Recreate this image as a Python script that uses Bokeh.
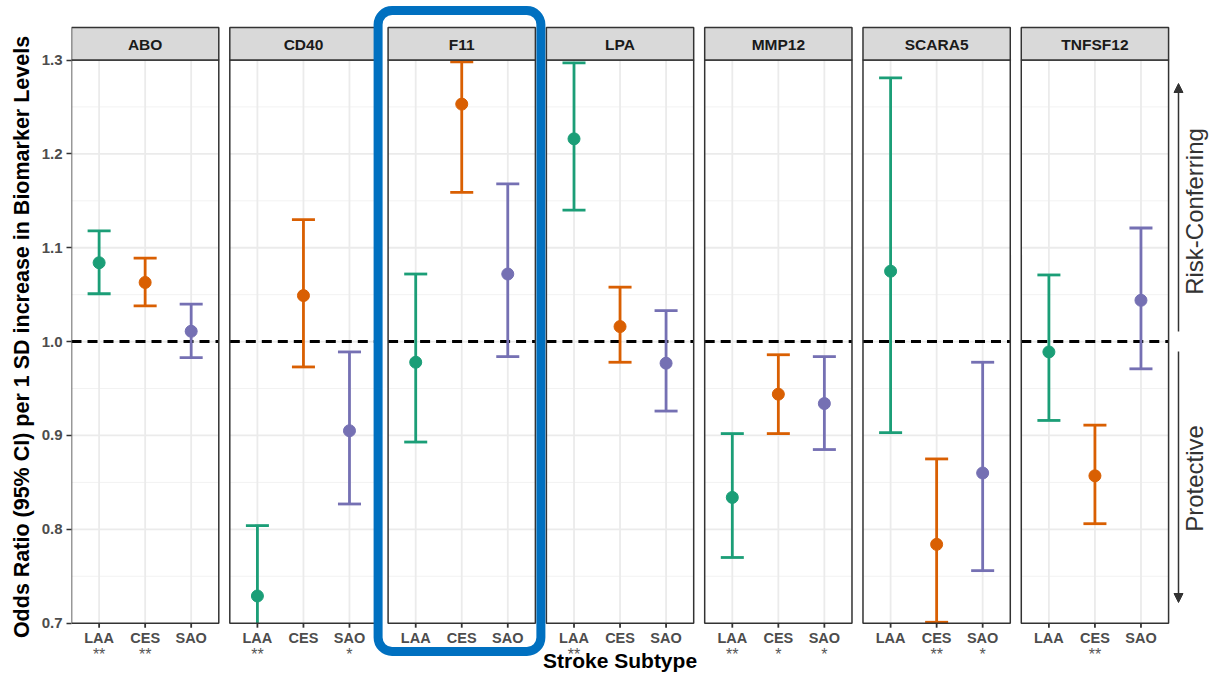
import numpy as np
from bokeh.plotting import figure
from bokeh.models import (ColumnDataSource, FixedTicker, Range1d, BoxAnnotation, Arrow,
                          NormalHead, Label, PrintfTickFormatter)
from bokeh.core.properties import value
from bokeh.embed import file_html
from bokeh.resources import INLINE

# ---------------- data ----------------
genes = ["ABO", "CD40", "F11", "LPA", "MMP12", "SCARA5", "TNFSF12"]
subtypes = ["LAA", "CES", "SAO"]
sub_colors = ["#1b9e77", "#d95f02", "#7570b3"]

laa_or = [1.084, 0.729, 0.978, 1.216, 0.834, 1.075, 0.989]
laa_lo = [1.051, 0.660, 0.893, 1.140, 0.770, 0.903, 0.916]
laa_hi = [1.118, 0.804, 1.072, 1.297, 0.902, 1.281, 1.071]

ces_or = [1.063, 1.049, 1.253, 1.016, 0.944, 0.784, 0.857]
ces_lo = [1.038, 0.973, 1.159, 0.978, 0.902, 0.701, 0.806]
ces_hi = [1.089, 1.130, 1.298, 1.058, 0.986, 0.875, 0.911]

sao_or = [1.011, 0.905, 1.072, 0.977, 0.934, 0.860, 1.044]
sao_lo = [0.983, 0.827, 0.984, 0.926, 0.885, 0.756, 0.971]
sao_hi = [1.040, 0.989, 1.168, 1.033, 0.984, 0.978, 1.121]

laa_sig = ["**", "**", "", "**", "**", "", ""]
ces_sig = ["**", "", "**", "", "*", "**", "**"]
sao_sig = ["", "*", "", "", "*", "*", ""]

y_ticks = [0.7, 0.8, 0.9, 1.0, 1.1, 1.2, 1.3]
y_minor = [0.75, 0.85, 0.95, 1.05, 1.15, 1.25]
ref_line = 1.0
highlight_gene = "F11"

y_title = "Odds Ratio (95% CI) per 1 SD increase in Biomarker Levels"
x_title = "Stroke Subtype"

# ---------------- layout helpers ----------------
W, H = 1209, 673
FRAME_LEFT = 71
Y0, Y1 = y_ticks[0], y_ticks[-1]
PANEL_TOP_PX, PANEL_BOT_PX = 59.5, 622.7
PX_PER_Y = (PANEL_BOT_PX - PANEL_TOP_PX) / (Y1 - Y0)
Y_END = Y1 + PANEL_TOP_PX / PX_PER_Y
Y_START = Y0 - (H - PANEL_BOT_PX) / PX_PER_Y

PX_PER_X = 46.03
STEP = 3.439          # panel pitch in category units
PAD = 0.6             # ggplot discrete padding
X_START = 1 - PAD
X_END = X_START + (W - FRAME_LEFT) / PX_PER_X


def ypx(px):
    return Y1 - (px - PANEL_TOP_PX) / PX_PER_Y


def xpx(px):
    return X_START + (px - FRAME_LEFT) / PX_PER_X


FONT = value("Liberation Sans")

p = figure(width=W, height=H, x_range=Range1d(X_START, X_END), y_range=Range1d(Y_START, Y_END),
           output_backend="svg", toolbar_location=None, x_axis_type=None,
           min_border_left=FRAME_LEFT, min_border_right=0, min_border_top=0, min_border_bottom=0,
           background_fill_color="white", border_fill_color="white")
p.outline_line_color = None
p.ygrid.grid_line_color = None

# y axis
ax = p.yaxis[0]
ax.ticker = FixedTicker(ticks=y_ticks, minor_ticks=[])
ax.formatter = PrintfTickFormatter(format="%.1f")
ax.axis_line_color = None
ax.major_tick_out = 5
ax.major_tick_in = 0
ax.major_tick_line_color = "#333333"
ax.major_tick_line_width = 1.5
ax.minor_tick_line_color = None
ax.major_label_text_font = "Liberation Sans"
ax.major_label_text_font_size = "15px"
ax.major_label_text_font_style = "bold"
ax.major_label_text_color = "#4d4d4d"
ax.major_label_standoff = 4
ax.axis_label = y_title
ax.axis_label_text_font = "Liberation Sans"
ax.axis_label_text_font_size = "21.5px"
ax.axis_label_text_font_style = "bold"
ax.axis_label_text_color = "#000000"
ax.axis_label_standoff = 5

n = len(genes)
p_left = [k * STEP + X_START for k in range(n)]
p_right = [l + 3 + 2 * PAD - 1 for l in p_left]  # width 3.2 units
centers = [(l + r) / 2 for l, r in zip(p_left, p_right)]

# grid
gx0, gy0, gx1, gy1 = [], [], [], []
for l, r in zip(p_left, p_right):
    for v in y_ticks[1:-1]:
        gx0.append(l); gx1.append(r); gy0.append(v); gy1.append(v)
mx0, my0, mx1, my1 = [], [], [], []
for l, r in zip(p_left, p_right):
    for v in y_minor:
        mx0.append(l); mx1.append(r); my0.append(v); my1.append(v)
vx = [k * STEP + j + 1 for k in range(n) for j in range(len(subtypes))]
p.segment(x0=mx0, y0=my0, x1=mx1, y1=my1, line_color="#f2f2f2", line_width=1)
p.segment(x0=gx0, y0=gy0, x1=gx1, y1=gy1, line_color="#ebebeb", line_width=1.8)
p.segment(x0=vx, y0=[Y0] * len(vx), x1=vx, y1=[Y1] * len(vx), line_color="#ebebeb", line_width=1.8)

# reference line
p.segment(x0=p_left, y0=[ref_line] * n, x1=p_right, y1=[ref_line] * n,
          line_color="black", line_width=3, line_dash="10 6")

# error bars and points
ors = [laa_or, ces_or, sao_or]
los = [laa_lo, ces_lo, sao_lo]
his = [laa_hi, ces_hi, sao_hi]
sigs = [laa_sig, ces_sig, sao_sig]
CAP = 0.25
rows = dict(x=[], o=[], lo=[], hi=[], c=[])
caps = dict(x0=[], x1=[], y=[], c=[])
labs = dict(x=[], t=[], s=[])
for k in range(n):
    for j, s in enumerate(subtypes):
        x = k * STEP + j + 1
        lo, hi, o = los[j][k], his[j][k], ors[j][k]
        rows["x"].append(x); rows["o"].append(o)
        rows["lo"].append(max(lo, Y0)); rows["hi"].append(min(hi, Y1))
        rows["c"].append(sub_colors[j])
        for v in (lo, hi):
            if Y0 <= v <= Y1:
                caps["x0"].append(x - CAP); caps["x1"].append(x + CAP)
                caps["y"].append(v); caps["c"].append(sub_colors[j])
        labs["x"].append(x); labs["t"].append(s); labs["s"].append(sigs[j][k])

src = ColumnDataSource(rows)
p.segment(x0="x", y0="lo", x1="x", y1="hi", line_color="c", line_width=2.8, source=src)
p.segment(x0="x0", y0="y", x1="x1", y1="y", line_color="c", line_width=2.8,
          source=ColumnDataSource(caps))
p.scatter(x="x", y="o", size=12, fill_color="c", line_color="c", source=src)

# panel borders
p.quad(left=p_left, right=p_right, bottom=[Y0] * n, top=[Y1] * n,
       fill_color=None, line_color="#333333", line_width=1.5)

# strips
p.quad(left=p_left, right=p_right, bottom=[Y1] * n, top=[ypx(27)] * n,
       fill_color="#d9d9d9", line_color="#333333", line_width=1.5)
p.text(x=centers, y=[ypx(43.5)] * n, text=genes, text_font=FONT, text_font_size="15.5px",
       text_font_style="bold", text_color="#1a1a1a", text_align="center", text_baseline="middle")

# x ticks, labels, significance stars
p.segment(x0=labs["x"], y0=[Y0] * len(labs["x"]), x1=labs["x"], y1=[ypx(PANEL_BOT_PX + 4.5)] * len(labs["x"]),
          line_color="#333333", line_width=1.8)
lsrc = ColumnDataSource(labs)
p.text(x="x", y=ypx(637.5), text="t", source=lsrc, text_font=FONT, text_font_size="14.5px",
       text_font_style="bold", text_color="#4d4d4d", text_align="center", text_baseline="middle")
p.text(x="x", y=ypx(654), text="s", source=lsrc, text_font=FONT, text_font_size="16px",
       text_color="#555555", text_align="center", text_baseline="middle")

# x title
p.text(x=[(p_left[0] + p_right[-1]) / 2], y=[ypx(660)], text=[x_title], text_font=FONT,
       text_font_size="21px", text_font_style="bold", text_color="#000000",
       text_align="center", text_baseline="middle")

# right side annotation arrows and labels
AX = xpx(1178)
p.add_layout(Arrow(end=NormalHead(size=9, fill_color="#333333", line_color="#333333"),
                   x_start=AX, y_start=ypx(331), x_end=AX, y_end=ypx(83),
                   line_color="#333333", line_width=1.5))
p.add_layout(Arrow(end=NormalHead(size=9, fill_color="#333333", line_color="#333333"),
                   x_start=AX, y_start=ypx(351), x_end=AX, y_end=ypx(602),
                   line_color="#333333", line_width=1.5))
p.add_layout(Label(x=xpx(1194), y=ypx(211), text="Risk-Conferring", angle=np.pi / 2,
                   text_align="center", text_baseline="middle", text_font="Liberation Sans",
                   text_font_size="24px", text_color="#333333"))
p.add_layout(Label(x=xpx(1194), y=ypx(478), text="Protective", angle=np.pi / 2,
                   text_align="center", text_baseline="middle", text_font="Liberation Sans",
                   text_font_size="24px", text_color="#333333"))

# highlight box around F11
hk = genes.index(highlight_gene)
hl, hr = p_left[hk], p_right[hk]
p.add_layout(BoxAnnotation(left=hl - 10 / PX_PER_X, right=hr + 5.5 / PX_PER_X,
                           top=ypx(10), bottom=ypx(651),
                           fill_color=None, fill_alpha=0, line_color="#0070c0", line_alpha=1.0,
                           line_width=9, border_radius=14))

open("out.html", "w").write(file_html(p, INLINE))
